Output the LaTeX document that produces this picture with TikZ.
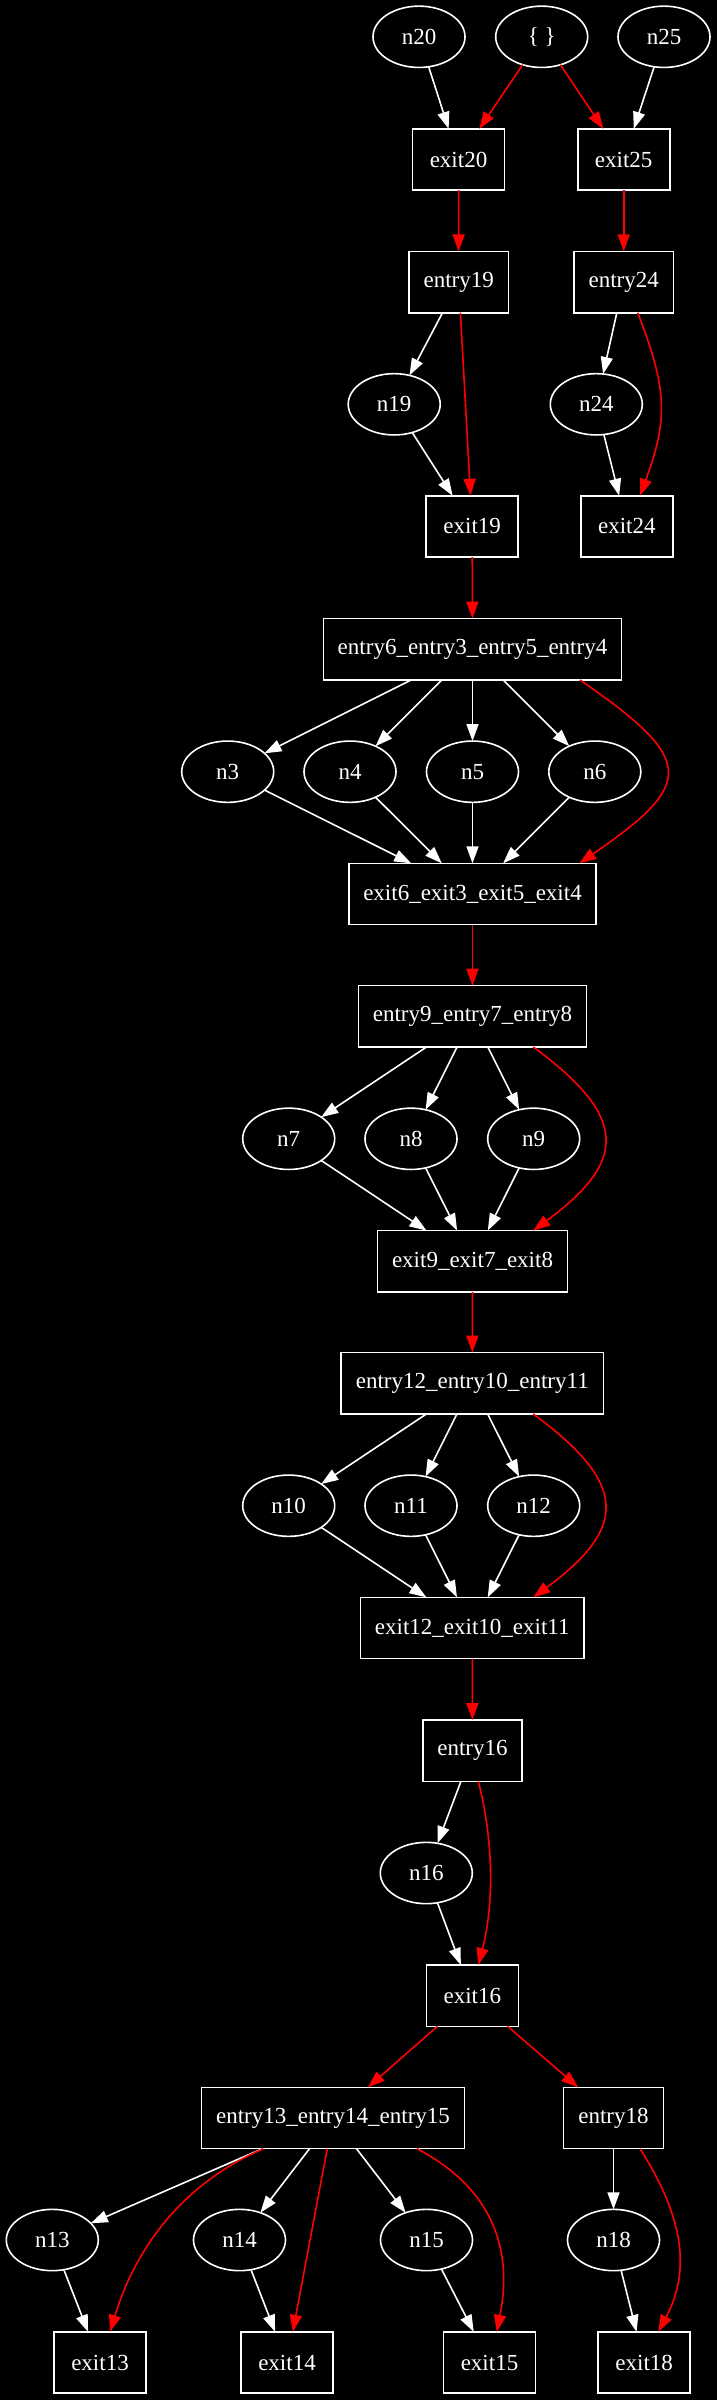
\documentclass[tikz,border=0pt]{standalone}
\usepackage{fontspec}
\setmainfont{Liberation Serif}
\usetikzlibrary{shapes.geometric,arrows.meta,calc}
\begin{document}
\begin{tikzpicture}[x=1pt,y=-1pt,
  nd/.style={text=white, font=\fontsize{23}{27}\selectfont, line width=1.6pt, draw=white, inner sep=0pt, outer sep=0pt},
  bx/.style={nd, rectangle, minimum height=61.3pt, minimum width=#1},
  bx/.default=92pt,
  el/.style={nd, ellipse, minimum width=92pt, minimum height=61.3pt},
  we/.style={draw=white, line width=1.6pt, -{Triangle[length=17pt,width=12pt]}},
  re/.style={draw=red, line width=1.6pt, -{Triangle[length=17pt,width=12pt]}},
]
\useasboundingbox (0,0) rectangle (717,2400);
\fill[black] (0,0) rectangle (717,2400);

% top
\node[el] (n20) at (419,36.8) {n20};
\node[el] (emp) at (541.7,36.8) {\{ \}};
\node[el] (n25) at (664,36.8) {n25};
\node[bx] (exit20) at (458.5,159.5) {exit20};
\node[bx] (exit25) at (623.7,159.5) {exit25};
\node[bx=99.3pt] (entry19) at (458.7,282.1) {entry19};
\node[bx=99.3pt] (entry24) at (623.7,282.1) {entry24};
\node[el] (n19) at (394.2,404.3) {n19};
\node[el] (n24) at (596.3,404.3) {n24};
\node[bx] (exit19) at (472.2,526.4) {exit19};
\node[bx] (exit24) at (626.8,526.4) {exit24};

% block 3-6
\node[bx=298.3pt] (entry6) at (472.5,649.3) {entry6\_entry3\_entry5\_entry4};
\node[el] (n3) at (227.7,771.7) {n3};
\node[el] (n4) at (350,771.7) {n4};
\node[el] (n5) at (472.5,771.7) {n5};
\node[el] (n6) at (594.8,771.7) {n6};
\node[bx=247pt] (exit6) at (472.5,894) {exit6\_exit3\_exit5\_exit4};

% block 7-9
\node[bx=228.3pt] (entry9) at (472.5,1016.3) {entry9\_entry7\_entry8};
\node[el] (n7) at (288.7,1138.8) {n7};
\node[el] (n8) at (411,1138.8) {n8};
\node[el] (n9) at (533.7,1138.8) {n9};
\node[bx=189.7pt] (exit9) at (472.5,1261.2) {exit9\_exit7\_exit8};

% block 10-12
\node[bx=262.7pt] (entry12) at (472.3,1383.3) {entry12\_entry10\_entry11};
\node[el] (n10) at (288.7,1505.7) {n10};
\node[el] (n11) at (411,1505.7) {n11};
\node[el] (n12) at (533.7,1505.7) {n12};
\node[bx=223.3pt] (exit12) at (472.3,1628) {exit12\_exit10\_exit11};

% block 16
\node[bx=99pt] (entry16) at (472.5,1750.7) {entry16};
\node[el] (n16) at (426.3,1873) {n16};
\node[bx] (exit16) at (472.3,1995.7) {exit16};

% bottom
\node[bx=262.7pt] (entry13) at (333,2118) {entry13\_entry14\_entry15};
\node[bx=99.7pt] (entry18) at (613.5,2118) {entry18};
\node[el] (n13) at (52.3,2240) {n13};
\node[el] (n14) at (239.5,2240) {n14};
\node[el] (n15) at (426.5,2240) {n15};
\node[el] (n18) at (613.5,2240) {n18};
\node[bx] (exit13) at (100,2362.5) {exit13};
\node[bx] (exit14) at (287,2362.5) {exit14};
\node[bx] (exit15) at (489.5,2362.5) {exit15};
\node[bx] (exit18) at (644.2,2362.5) {exit18};

% white edges
\draw[we] (n20) -- (exit20);
\draw[we] (n25) -- (exit25);
\draw[we] (entry19) -- (n19);
\draw[we] (n19) -- (exit19);
\draw[we] (entry24) -- (n24);
\draw[we] (n24) -- (exit24);
\foreach \m in {n3,n4,n5,n6} {\draw[we] (entry6) -- (\m); \draw[we] (\m) -- (exit6);}
\foreach \m in {n7,n8,n9} {\draw[we] (entry9) -- (\m); \draw[we] (\m) -- (exit9);}
\foreach \m in {n10,n11,n12} {\draw[we] (entry12) -- (\m); \draw[we] (\m) -- (exit12);}
\draw[we] (entry16) -- (n16);
\draw[we] (n16) -- (exit16);
\draw[we] (entry13) -- (n13);
\draw[we] (entry13) -- (n14);
\draw[we] (entry13) -- (n15);
\draw[we] (n13) -- (exit13);
\draw[we] (n14) -- (exit14);
\draw[we] (n15) -- (exit15);
\draw[we] (entry18) -- (n18);
\draw[we] (n18) -- (exit18);

% red edges, straight
\draw[re] (emp) -- (exit20);
\draw[re] (emp) -- (exit25);
\draw[re] (exit20) -- (entry19);
\draw[re] (exit25) -- (entry24);
\draw[re] (entry19) -- (exit19);
\draw[re] (exit19) -- (entry6);
\draw[re] (exit6) -- (entry9);
\draw[re] (exit9) -- (entry12);
\draw[re] (exit12) -- (entry16);
\draw[re] (exit16) -- (entry13);
\draw[re] (exit16) -- (entry18);
\draw[re] (entry13) -- (exit14);

% red edges, curved
\draw[re] ([xshift=14pt]entry24.south) .. controls +(30,77) and +(28,-76) .. ([xshift=13.2pt]exit24.north);
\draw[re] ([xshift=107.5pt]entry6.south) .. controls +(115.7,80) and +(116.4,-80) .. ([xshift=106.8pt]exit6.north);
\draw[re] ([xshift=60.8pt]entry9.south) .. controls +(94.7,70) and +(94.7,-70) .. ([xshift=60.8pt]exit9.north);
\draw[re] ([xshift=61pt]entry12.south) .. controls +(94.7,70) and +(94.7,-70) .. ([xshift=61pt]exit12.north);
\draw[re] ([xshift=5.8pt]entry16.south) .. controls +(15.6,60) and +(15.6,-60) .. ([xshift=6pt]exit16.north);
\draw[re] ([xshift=-69.7pt]entry13.south) .. controls +(-83.3,36.3) and +(25,-81.7) .. ([xshift=10pt]exit13.north);
\draw[re] ([xshift=84pt]entry13.south) .. controls +(88,46.3) and +(13.3,-66.7) .. ([xshift=7.2pt]exit15.north);
\draw[re] ([xshift=26.5pt]entry18.south) .. controls +(42,66.3) and +(33.7,-63.7) .. ([xshift=14.1pt]exit18.north);
\end{tikzpicture}
\end{document}
